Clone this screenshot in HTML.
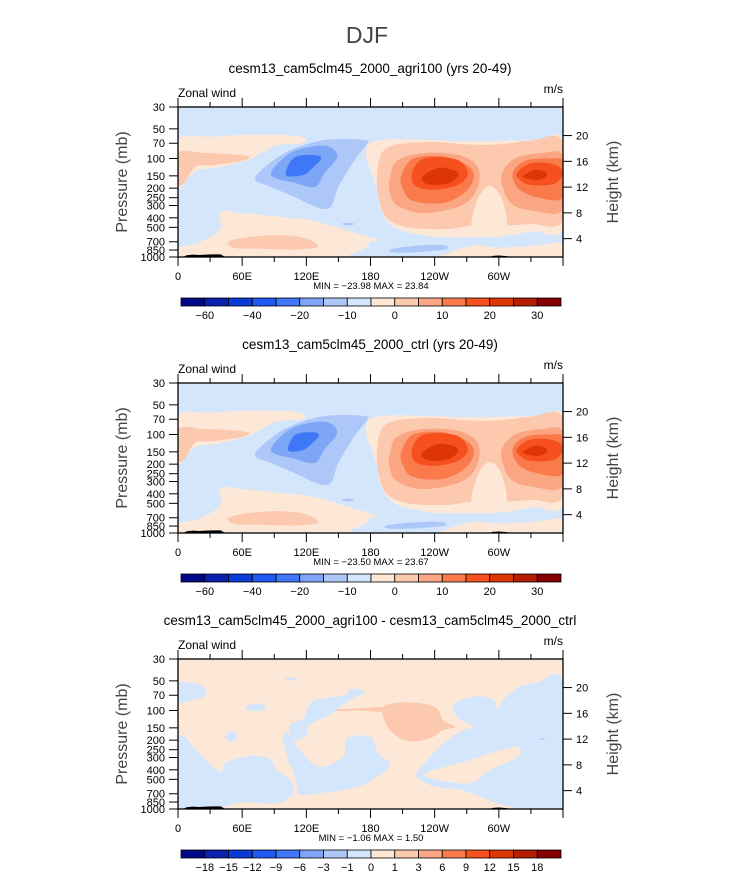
<!DOCTYPE html>
<html><head><meta charset="utf-8">
<style>
html,body{margin:0;padding:0;background:#fff;}
svg{display:block;font-family:"Liberation Sans",sans-serif;}
</style></head>
<body>
<svg id="chart" width="733" height="872" viewBox="0 0 733 872" xmlns="http://www.w3.org/2000/svg">
<text x="367" y="43" text-anchor="middle" font-size="23" font-weight="100" fill="#444">DJF</text>
</svg>
<script>
// ---- data ----
const palette = ["#00088a","#0a20b0","#0c3ad8","#1f58f2","#3f78f6","#7ea6f6","#adc8f8","#d3e6fb","#fde8d7","#fcc8ae","#fba683","#fa7a4b","#f5501e","#de3507","#b51d04","#840000"];
const pLevels = [30,50,70,100,150,200,250,300,400,500,700,850,1000];
const heightTicks = [4,8,12,16,20];
const lonTicks = [0,60,120,180,240,300];
const lonLabels = ["0","60E","120E","180","120W","60W"];
const cbLabelsFull = ["-60","","-40","","-20","","-10","","0","","10","","20","","30"];
const cbLabelsDiff = ["-18","-15","-12","-9","-6","-3","-1","0","1","3","6","9","12","15","18"];
const titles = ["cesm13_cam5clm45_2000_agri100 (yrs 20-49)","cesm13_cam5clm45_2000_ctrl (yrs 20-49)","cesm13_cam5clm45_2000_agri100 - cesm13_cam5clm45_2000_ctrl"];
const minVals = ["-23.98","-23.50","-1.06"];
const maxVals = ["23.84","23.67","1.50"];
// contour regions: [levelIndex, [[lon,p],...]]
const fieldA = [
 [8,[[176,97],[179,70],[198,64],[238,65],[270,67],[332,65],[360,67],[360,508],[332,550],[301,620],[270,630],[238,620],[207,528],[195,420],[189,310],[186,206],[181,142]]],
 [8,[[0,810],[19,720],[39,530],[40,350],[62,360],[94,390],[125,425],[156,530],[187,670],[180,700],[176,800],[160,950],[150,1000],[0,1000]]],
 [8,[[254,900],[276,770],[301,800],[332,770],[360,720],[360,1000],[254,1000]]],
 [8,[[0,65],[31,60],[78,57],[115,60],[117,70],[94,73],[78,88],[65,104],[37,124],[19,131],[9,158],[0,194]]],
 [9,[[47,700],[65,630],[94,600],[118,640],[131,780],[109,840],[72,820],[53,810]]],
 [9,[[0,88],[25,88],[47,90],[67,96],[56,108],[31,117],[16,121],[6,177],[0,177]]],
 [9,[[186,165],[190,90],[205,72],[240,68],[270,72],[300,72],[330,66],[360,68],[360,420],[330,460],[306,480],[276,480],[250,520],[215,500],[195,400],[188,260]]],
 [8,[[276,560],[279,280],[291,190],[303,260],[306,560]]],
 [10,[[198,160],[205,105],[230,88],[262,92],[280,120],[280,200],[265,300],[230,358],[205,300],[198,220]]],
 [10,[[303,140],[315,100],[340,88],[360,95],[360,330],[330,335],[312,290],[304,200]]],
 [11,[[209,150],[220,100],[250,96],[275,130],[272,200],[250,280],[220,270],[210,200]]],
 [11,[[313,140],[325,105],[350,100],[360,110],[360,250],[335,246],[318,200]]],
 [12,[[219,140],[230,100],[260,102],[271,140],[262,185],[240,208],[222,190]]],
 [12,[[317,140],[330,112],[352,115],[360,140],[352,180],[330,186],[320,165]]],
 [13,[[229,150],[245,124],[262,140],[255,175],[240,186],[230,175]]],
 [13,[[323,150],[333,131],[343,135],[345,150],[338,165],[326,160]]],
 [6,[[72,158],[94,96],[118,73],[143,64],[175,65],[176,73],[165,104],[150,194],[143,308],[131,316],[109,246],[87,194]]],
 [5,[[87,147],[100,96],[118,78],[140,75],[149,96],[137,141],[128,194],[109,177]]],
 [4,[[101,147],[108,99],[125,92],[134,99],[126,124],[117,147]]],
 [6,[[153,462],[159,450],[165,462],[159,478]]],
 [6,[[200,830],[223,770],[248,755],[251,830],[226,890],[201,900]]]
];
const fieldB = fieldA.slice(0,18).concat([
 [4,[[103,145],[109,102],[124,95],[132,101],[125,124],[116,145]]],
 [6,[[153,462],[159,450],[165,462],[159,478]]],
 [6,[[195,840],[220,780],[245,770],[250,840],[225,895],[198,905]]]
]);
const fieldC = [
 [7,[[0,54],[12,52],[24,58],[26,70],[15,78],[0,82]]],
 [7,[[0,190],[17,250],[22,290],[39,420],[45,340],[67,290],[86,310],[92,400],[105,510],[108,690],[92,880],[61,850],[44,950],[40,1000],[0,1000]]],
 [7,[[44,185],[50,160],[56,185],[50,210]]],
 [7,[[64,92],[72,85],[83,90],[78,100],[66,100]]],
 [7,[[100,48],[105,46],[110,48],[105,50]]],
 [7,[[105,140],[117,120],[126,80],[155,70],[162,60],[175,65],[161,78],[142,110],[123,140],[120,180],[106,200]]],
 [7,[[98,185],[103,171],[114,252],[126,343],[136,371],[155,294],[158,192],[180,185],[187,272],[198,343],[195,401],[186,468],[167,600],[117,720],[112,640],[108,433],[103,318]]],
 [7,[[259,85],[279,72],[295,78],[299,99],[304,78],[320,57],[335,53],[360,53],[360,1000],[310,936],[282,743],[264,637],[239,590],[223,468],[229,360],[248,216],[267,158],[276,147],[261,116]]],
 [8,[[232,433],[273,318],[292,272],[317,233],[318,294],[292,401],[273,546],[242,505]]],
 [9,[[192,92],[208,83],[229,85],[242,95],[248,125],[259,147],[248,158],[236,190],[217,206],[201,171],[193,125]]],
 [9,[[148,98],[170,95],[192,93],[192,103],[170,100],[148,101]]],
 [6,[[337,195],[340,192],[344,195],[340,198]]]
];
const bgLevel = [7,7,8];
const terrain = [[5,1000],[8,960],[14,945],[20,955],[26,945],[32,940],[40,940],[44,1000],[95,1000],[95,990],[180,990],[180,1000],[292,1000],[294,975],[300,965],[306,978],[312,995],[320,1000]];
// ---- layout ----
const svg = document.getElementById('chart');
const NS = "http://www.w3.org/2000/svg";
const X0=178, X1=563, H=150;
function xs(lon){return X0+(lon/360)*(X1-X0);}
function ys(p,top){return top+H*Math.log(p/30)/Math.log(1000/30);}
function hy(km,top){var p=1189*Math.exp(-km/6.64);return ys(p,top);}
function mk(tag,attrs,parent){var e=document.createElementNS(NS,tag);for(var k in attrs)e.setAttribute(k,attrs[k]);(parent||svg).appendChild(e);return e;}
function smooth(pts){var n=pts.length,d="M"+pts[0][0].toFixed(1)+","+pts[0][1].toFixed(1);
 for(var i=0;i<n;i++){var p0=pts[(i-1+n)%n],p1=pts[i],p2=pts[(i+1)%n],p3=pts[(i+2)%n];
  var c1=[p1[0]+(p2[0]-p0[0])/6,p1[1]+(p2[1]-p0[1])/6],c2=[p2[0]-(p3[0]-p1[0])/6,p2[1]-(p3[1]-p1[1])/6];
  d+="C"+c1[0].toFixed(1)+","+c1[1].toFixed(1)+" "+c2[0].toFixed(1)+","+c2[1].toFixed(1)+" "+p2[0].toFixed(1)+","+p2[1].toFixed(1);}
 return d+"Z";}
const fields=[fieldA,fieldB,fieldC];
for(let k=0;k<3;k++){
 const off=276*k, top=107+off;
 const g=mk('g',{});
 
 
 const t=mk('text',{x:370,y:73+off,'text-anchor':'middle','font-size':13.5,fill:'#000'},g);
 
 
 t.textContent=titles[k];
 const cp=mk('clipPath',{id:'clip'+k},g);
 mk('rect',{x:X0,y:top,width:X1-X0,height:H},cp);
 const plot=mk('g',{'clip-path':'url(#clip'+k+')'},g);
 
 
 mk('rect',{x:X0,y:top,width:X1-X0,height:H,fill:palette[bgLevel[k]]},plot);
 fields[k].forEach(function(r){
  const pts=r[1].map(function(q){return [xs(q[0]),ys(q[1],top)];});
  const pa=mk('path',{d:smooth(pts),fill:palette[r[0]]},plot);
  
  
 });
 const tp=mk('polygon',{points:terrain.map(function(q){return xs(q[0])+","+ys(q[1],top);}).join(" "),fill:'#000'},plot);
 
 
 const fr=mk('rect',{x:X0,y:top,width:X1-X0,height:H,fill:'none',stroke:'#000','stroke-width':1.3},g);
 
 
 pLevels.forEach(function(p){var y=ys(p,top);
  mk('line',{x1:X0-9,x2:X0,y1:y,y2:y,stroke:'#000'},g);
  const l=mk('text',{x:X0-13,y:y+4,'text-anchor':'end','font-size':11,fill:'#000'},g);
  
  
  l.textContent=p;});
 heightTicks.forEach(function(h){var y=hy(h,top);
  mk('line',{x1:X1,x2:X1+9,y1:y,y2:y,stroke:'#000'},g);
  const l=mk('text',{x:X1+13,y:y+4,'font-size':11,fill:'#000'},g);
  
  
  l.textContent=h;});
 for(let lon=0;lon<=360;lon+=30){var x=xs(lon),mj=lon%60===0,len=mj?9:5;
  mk('line',{x1:x,x2:x,y1:top-len,y2:top,stroke:'#000'},g);
  mk('line',{x1:x,x2:x,y1:top+H,y2:top+H+len,stroke:'#000'},g);}
 lonTicks.forEach(function(lon,i){
  const l=mk('text',{x:xs(lon),y:top+H+23,'text-anchor':'middle','font-size':11,fill:'#000'},g);
  
  
  l.textContent=lonLabels[i];});
 const yl=mk('text',{x:0,y:0,'text-anchor':'middle','font-size':16,fill:'#444',transform:'translate(127,'+(top+H/2)+') rotate(-90)'},g);
 
 
 yl.textContent='Pressure (mb)';
 const yr=mk('text',{x:0,y:0,'text-anchor':'middle','font-size':16,fill:'#444',transform:'translate(618,'+(top+H/2)+') rotate(-90)'},g);
 
 
 yr.textContent='Height (km)';
 const zl=mk('text',{x:X0,y:top-10,'font-size':12,fill:'#000'},g);
 
 
 zl.textContent='Zonal wind';
 const ul=mk('text',{x:X1,y:top-14,'text-anchor':'end','font-size':12,fill:'#000'},g);
 
 
 ul.textContent='m/s';
 const mm=mk('text',{x:371,y:top+H+32,'text-anchor':'middle','font-size':9.5,fill:'#000','xml:space':'preserve'},g);
 
 
 mm.textContent='MIN = '+minVals[k].replace('-','\u2212')+'   MAX =  '+maxVals[k];
 const cb=mk('g',{},g);
 
 
 const cx0=181,cw=380/16,cy=298+off;
 palette.forEach(function(c,i){const r=mk('rect',{x:cx0+i*cw,y:cy,width:cw,height:8,fill:c,stroke:'#000','stroke-width':0.8},cb);
  
  });
 const labs=k<2?cbLabelsFull:cbLabelsDiff;
 labs.forEach(function(s,i){if(!s)return;
  const l=mk('text',{x:cx0+(i+1)*cw,y:cy+21,'text-anchor':'middle','font-size':11,fill:'#000'},cb);
  
  
  l.textContent=s.replace('-','\u2212');});
}
</script>
</body></html>
